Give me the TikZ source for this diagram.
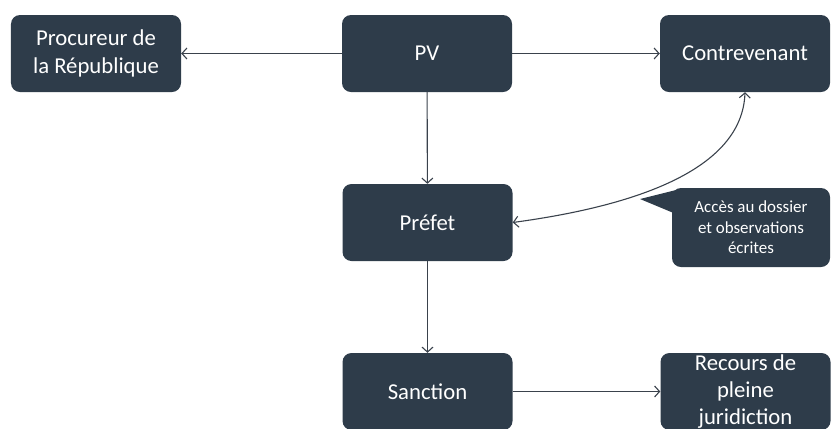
\documentclass[tikz,border=0pt]{standalone}
\usepackage{fontspec}
\setmainfont{Carlito}
\usetikzlibrary{arrows.meta}
\definecolor{boxc}{HTML}{2E3C4A}
\definecolor{linec}{HTML}{3A424C}
\begin{document}
\begin{tikzpicture}[x=1bp,y=-1bp,
  box/.style={fill=boxc, rounded corners=9bp, minimum width=170bp, minimum height=77bp,
    text=white, align=center, inner sep=0pt, font=\fontsize{22.8}{27.5}\selectfont},
  callbox/.style={fill=boxc, rounded corners=9bp, minimum width=158bp, minimum height=79bp,
    text=white, align=center, inner sep=0pt, font=\fontsize{17}{20.5}\selectfont},
  conn/.style={draw=linec, line width=1.1bp, -{Straight Barb[length=5bp,width=11bp]}}]
\useasboundingbox (0,0) rectangle (836,428);
\node[box] (proc) at (96,53.5) {Procureur de\\la République};
\node[box] (pv) at (427,53.5) {PV};
\node[box] (contr) at (745,53.5) {Contrevenant};
\node[box] (pref) at (427.5,222.5) {Préfet};
\node[box] (sanc) at (427.5,391.5) {Sanction};
\node[box] (rec) at (745.5,391.5) {Recours de\\pleine\\juridiction};
\node[callbox] (cb) at (751,227.5) {Accès au dossier\\et observations\\écrites};
\coordinate (tip) at (640,199);
\fill[boxc] (tip) -- (680,189) -- (676,214) -- cycle;
\draw[conn] (pv) -- (proc);
\draw[conn] (pv) -- (contr);
\draw[conn] (pv) -- (pref);
\draw[conn] (pref) -- (sanc);
\draw[conn] (sanc) -- (rec);
\draw[draw=linec, line width=1.1bp, {Straight Barb[length=5bp,width=11bp]}-{Straight Barb[length=5bp,width=11bp]}]
  (pref.east) .. controls (620,208) and (742,175) .. (contr.south);
\end{tikzpicture}
\end{document}
